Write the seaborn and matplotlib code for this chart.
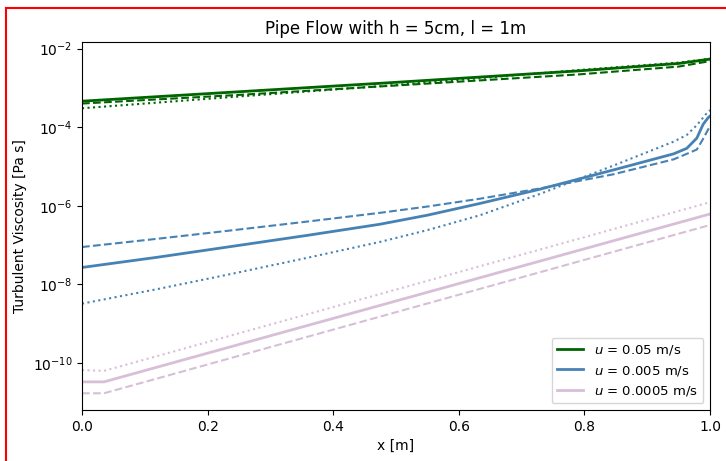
import numpy as np
import matplotlib
matplotlib.use("Agg")
import matplotlib.pyplot as plt
from matplotlib.lines import Line2D
import seaborn as sns

# ---- data (log10 of turbulent viscosity) ----
x_green = [0.0, 0.25, 0.49, 0.79, 0.95, 1.0]
g_solid = [-3.34, -3.10, -2.87, -2.57, -2.38, -2.27]
g_dash = [-3.40, -3.18, -2.95, -2.66, -2.46, -2.32]
g_dot = [-3.52, -3.22, -2.94, -2.55, -2.36, -2.26]

x_blue = [0.0, 0.12, 0.236, 0.36, 0.4745, 0.55, 0.634, 0.729, 0.846, 0.942, 0.963, 0.979, 0.989, 0.997, 1.0]
b_solid = [-7.57, -7.31, -7.04, -6.75, -6.47, -6.24, -5.94, -5.58, -5.09, -4.68, -4.54, -4.28, -3.93, -3.76, -3.72]
b_dash = [-7.05, -6.84, -6.63, -6.40, -6.18, -6.02, -5.82, -5.56, -5.20, -4.82, -4.68, -4.57, -4.30, -4.06, -3.98]
b_dot = [-8.49, -8.12, -7.74, -7.32, -6.92, -6.62, -6.24, -5.70, -4.98, -4.37, -4.20, -3.95, -3.76, -3.60, -3.57]

x_pink = [0.0, 0.035, 1.0]
p_solid = [-10.48, -10.48, -6.21]
p_dash = [-10.77, -10.77, -6.49]
p_dot = [-10.18, -10.20, -5.91]

labels = ["$u$ = 0.05 m/s", "$u$ = 0.005 m/s", "$u$ = 0.0005 m/s"]
colors = ["darkgreen", "steelblue", "thistle"]

fig = plt.figure(figsize=(7.26, 4.61), dpi=100)
ax = fig.add_axes([82 / 726, 1 - 410 / 461, (710 - 82) / 726, (410 - 42) / 461])

series = [
    (x_green, g_solid, g_dash, g_dot),
    (x_blue, b_solid, b_dash, b_dot),
    (x_pink, p_solid, p_dash, p_dot),
]
for (xs, s, d, o), c, lab in zip(series, colors, labels):
    xs = np.asarray(xs)
    sns.lineplot(x=xs, y=10 ** np.asarray(s), ax=ax, color=c, lw=2, ls="-", label=lab)
    sns.lineplot(x=xs, y=10 ** np.asarray(d), ax=ax, color=c, lw=1.5, ls="--")
    sns.lineplot(x=xs, y=10 ** np.asarray(o), ax=ax, color=c, lw=1.5, ls=":")

ax.set_yscale("log")
ax.set_xlim(0, 1)
ax.set_title("Pipe Flow with h = 5cm, l = 1m")
ax.set_xlabel("x [m]")
ax.set_ylabel("Turbulent Viscosity [Pa s]")
ax.legend(loc="lower right", fontsize=9.5)

# red frame seen in the reference
fig.add_artist(Line2D([6 / 726, 6 / 726], [0, 1 - 8 / 461], color="red", lw=1.5, transform=fig.transFigure))
fig.add_artist(Line2D([6 / 726, 1], [1 - 8 / 461, 1 - 8 / 461], color="red", lw=1.5, transform=fig.transFigure))

fig.savefig("out.png", dpi=100)
